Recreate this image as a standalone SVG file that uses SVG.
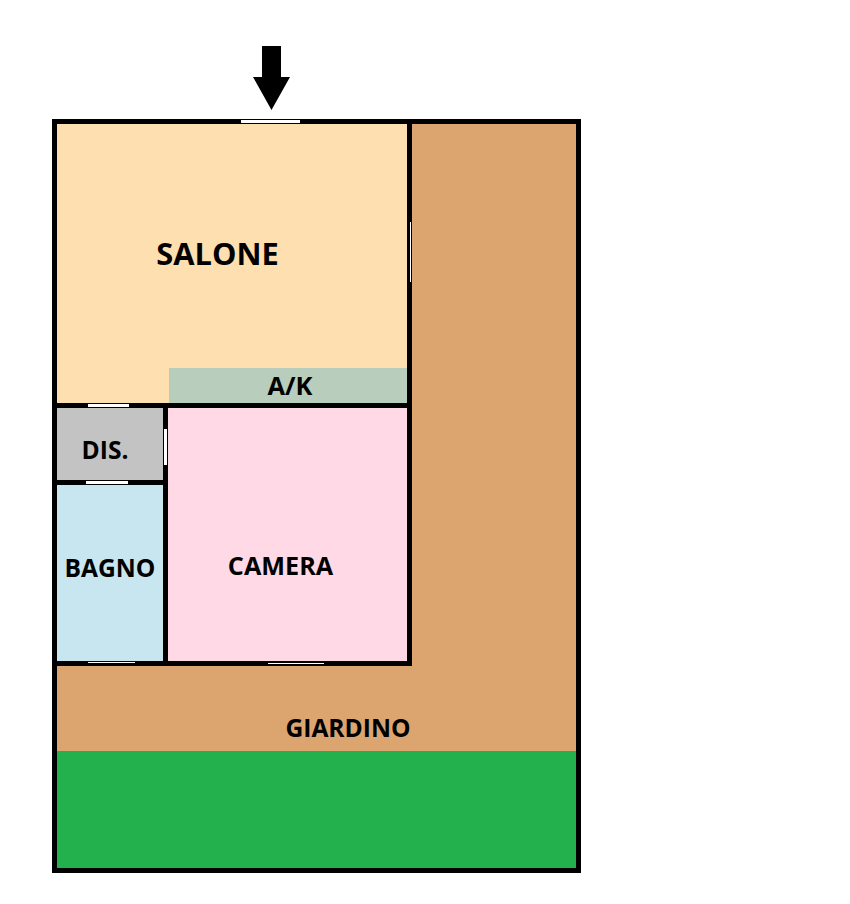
<svg xmlns="http://www.w3.org/2000/svg" width="850" height="904" viewBox="0 0 850 904">
<style>
text{font-family:"Open Sans","Noto Sans","Liberation Sans",sans-serif;font-weight:700;fill:#000;text-anchor:middle}
.w{fill:#000}.o{fill:#fff}
</style>
<rect width="850" height="904" fill="#fff"/>
<g id="giardino"><rect x="52" y="119" width="529" height="754" fill="#000"/><rect x="57" y="124" width="519" height="627" fill="#dca570"/><rect x="57" y="751" width="519" height="117" fill="#22b14c"/><text x="348" y="737" font-size="24.600">GIARDINO</text></g>
<g id="casa"><rect x="52" y="119" width="360" height="547" class="w"/></g>
<g id="salone"><rect x="57" y="124" width="350" height="279" fill="#fddfb0"/><text x="217.500" y="265" font-size="30.800">SALONE</text></g>
<g id="ak"><rect x="169" y="368" width="238" height="35" fill="#b9cdbc"/><text x="290" y="395" font-size="25.500">A/K</text></g>
<g id="dis"><rect x="57" y="408" width="106" height="72" fill="#c3c3c3"/><text x="105" y="459" font-size="24.600">DIS.</text></g>
<g id="bagno"><rect x="57" y="485" width="106" height="176" fill="#c7e6f0"/><text x="110" y="577" font-size="24.600">BAGNO</text></g>
<g id="camera"><rect x="168" y="408" width="239" height="253" fill="#ffd9e5"/><text x="280.500" y="575" font-size="25.200">CAMERA</text></g>
<g id="aperture"><rect x="241" y="120" width="59" height="3" class="o"/><rect x="410" y="222" width="1" height="60" class="o"/><rect x="88" y="404" width="41" height="3" class="o"/><rect x="164" y="429" width="3" height="36" class="o"/><rect x="86" y="481" width="42" height="3" class="o"/><rect x="88" y="662" width="47" height="1" class="o"/><rect x="268" y="663" width="56" height="1" class="o"/></g>
<g id="connectors"><polygon points="262,46 281,46 281,77 290,77 271.500,110 253,77 262,77" fill="#000"/></g>
</svg>
